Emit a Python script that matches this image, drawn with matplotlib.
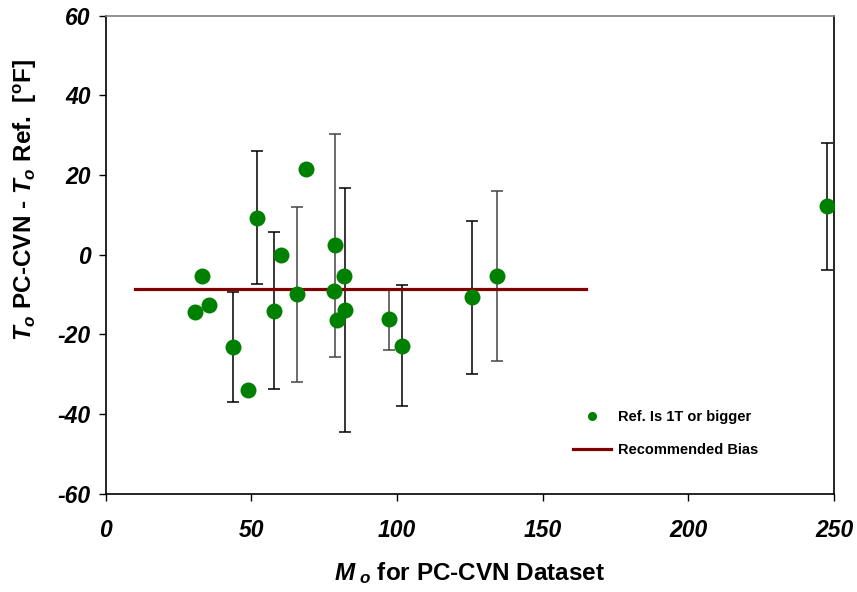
import matplotlib
matplotlib.use("Agg")
import matplotlib.pyplot as plt
from matplotlib.lines import Line2D

plt.rcParams['font.family'] = ['Liberation Sans', 'DejaVu Sans']
plt.rcParams['font.weight'] = 'bold'
plt.rcParams['axes.unicode_minus'] = False
plt.rcParams['mathtext.fontset'] = 'custom'
plt.rcParams['mathtext.it'] = 'Liberation Sans:italic:bold'
plt.rcParams['mathtext.rm'] = 'Liberation Sans:bold'
plt.rcParams['mathtext.bf'] = 'Liberation Sans:bold'

# points (Mo, To difference) without error bars
mo_plain = [30.7, 33.0, 35.5, 49.0, 60.3, 68.8, 78.4, 79.4, 81.9]
dt_plain = [-14.4, -5.3, -12.7, -34.0, 0.0, 21.6, -9.1, -16.3, -5.3]

# points with error bars: value, upper end, lower end
mo_err = [43.6, 52.0, 57.7, 65.8, 78.8, 82.2, 97.1, 101.6, 125.8, 134.2, 247.6]
dt_err = [-23.1, 9.2, -14.1, -9.9, 2.5, -13.8, -16.1, -22.9, -10.7, -5.3, 12.2]
dt_hi = [-9.3, 26.1, 5.7, 12.0, 30.2, 16.8, -8.5, -7.6, 8.4, 15.9, 28.0]
dt_lo = [-37.0, -7.3, -33.8, -31.9, -25.7, -44.5, -23.9, -38.0, -29.9, -26.8, -3.8]
bar_gray = [False, False, False, True, True, False, True, False, False, True, False]

# recommended bias line
bias_x = [10, 165]
bias_y = [-8.5, -8.5]

fig = plt.figure(figsize=(8.57, 5.92), dpi=100)
ax = fig.add_axes([0.1233, 0.166, 0.8499, 0.8074])

for x, y, hi, lo, g in zip(mo_err, dt_err, dt_hi, dt_lo, bar_gray):
    col = '#444444' if g else 'black'
    ax.errorbar([x], [y], yerr=[[y - lo], [hi - y]], fmt='none',
                ecolor=col, elinewidth=1.1, capsize=4, capthick=1.1, zorder=2)

ax.plot(bias_x, bias_y, color='#800000', lw=2.3, zorder=3)

ax.plot(mo_plain + mo_err, dt_plain + dt_err, 'o', color='#008000',
        markersize=11.5, markeredgewidth=0, zorder=4)

ax.set_xlim(0, 250)
ax.set_ylim(-60, 60)
ax.set_xticks(range(0, 251, 50))
ax.set_yticks(range(-60, 61, 20))
for lab in ax.get_xticklabels() + ax.get_yticklabels():
    lab.set_fontstyle('italic')
    lab.set_fontweight('bold')
    lab.set_fontsize(16.5)
ax.tick_params(axis='x', direction='out', length=5, width=1, pad=13)
ax.tick_params(axis='y', direction='out', length=5, width=1, pad=6)

for s in ['left', 'bottom', 'right']:
    ax.spines[s].set_linewidth(1.2)
    ax.spines[s].set_color('black')
ax.spines['top'].set_color('#808080')
ax.spines['top'].set_linewidth(1.2)

fig.text(25 / 857, 1 - 200 / 592, r"$T_o$ PC-CVN - $T_o$ Ref.  [$^{\mathrm{o}}$F]",
         rotation=90, ha='center', va='center', fontsize=17.5, fontweight='bold')
fig.text(470 / 857, 1 - 573 / 592, r"$M_{\ o}$ for PC-CVN Dataset",
         ha='center', va='center', fontsize=17.5, fontweight='bold')

handles = [
    Line2D([], [], marker='o', color='#008000', linestyle='none',
           markersize=6.5, markeredgewidth=0),
    Line2D([], [], color='#800000', lw=2.3),
]
ax.legend(handles, ['Ref. Is 1T or bigger', 'Recommended Bias'],
          loc='upper left', bbox_to_anchor=(566 / 857, 1 - 403 / 592),
          bbox_transform=fig.transFigure, frameon=False, borderpad=0,
          prop={'size': 10.5, 'weight': 'bold'}, handlelength=2.6,
          handletextpad=0.45, labelspacing=1.3)

fig.savefig('out.png', dpi=100)
